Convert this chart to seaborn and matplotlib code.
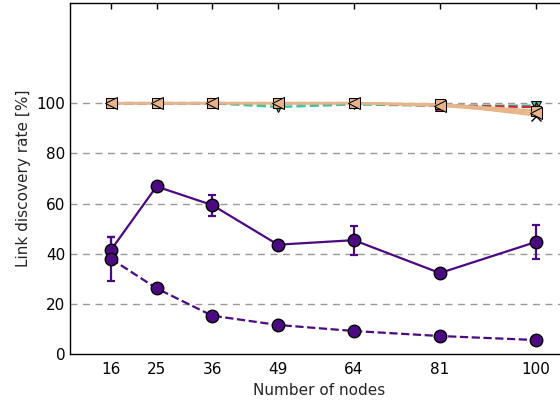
import matplotlib
matplotlib.use("Agg")
import matplotlib.pyplot as plt
import seaborn as sns
import pandas as pd
import numpy as np

nodes = [16, 25, 36, 49, 64, 81, 100]

# high-rate series
sq_tan = [100, 100, 100, 100, 100, 99.5, 97]
left_tan = [100, 100, 100, 100, 100, 99, 96]
down_teal = [100, 100, 100, 98.5, 99.5, 99, 99]
up_red = [100, 100, 100, 100, 100, 99, 98.5]
x_black = [100, 100, 100, 100, 100, 99.5, 95]

# purple series
solid_vals = [41.5, 66.8, 59.4, 43.6, 45.4, 32.3, 44.7]
solid_err = [5.0, 1.5, 4.2, 1.5, 5.8, 1.0, 6.9]
dashed_vals = [38.0, 26.2, 15.3, 11.6, 9.2, 7.2, 5.6]
dashed_err = [8.7, 0, 0, 0, 0, 0, 0]

sns.set_theme(style="white")
plt.rcParams['font.family'] = ['DejaVu Sans']

fig = plt.figure(figsize=(5.6, 4.01), dpi=100)
ax = fig.add_axes([0.125, 0.117, 0.89, 0.876])

purple = "#4b0a82"
tan = "#e8b48a"
teal = "#3cc8a0"
red = "#c8303a"

df = pd.DataFrame({"nodes": nodes, "sq": sq_tan, "lt": left_tan, "dn": down_teal,
                   "up": up_red, "xb": x_black})

sns.lineplot(data=df, x="nodes", y="dn", ax=ax, color=teal, linestyle="--", lw=1.8,
             marker="v", markersize=7, markerfacecolor=teal, markeredgecolor="black", zorder=3)
sns.lineplot(data=df, x="nodes", y="up", ax=ax, color=red, linestyle="--", lw=1.8,
             marker="^", markersize=7, markerfacecolor=red, markeredgecolor="black", zorder=3)
sns.lineplot(data=df, x="nodes", y="xb", ax=ax, color=tan, lw=1.3,
             marker="x", markersize=7, markeredgecolor="black", markeredgewidth=1, zorder=4)
sns.lineplot(data=df, x="nodes", y="sq", ax=ax, color=tan, lw=1.8,
             marker="s", markersize=7, markerfacecolor=tan, markeredgecolor="black", zorder=4)
sns.lineplot(data=df, x="nodes", y="lt", ax=ax, color=tan, lw=1.8,
             marker="<", markersize=8, markerfacecolor=tan, markeredgecolor="black", zorder=5)

ax.errorbar(nodes, solid_vals, yerr=solid_err, color=purple, lw=1.6, marker="o",
            markersize=9, markerfacecolor=purple, markeredgecolor="black",
            capsize=3, elinewidth=1.6, capthick=1.6, zorder=6)
ax.errorbar(nodes, dashed_vals, yerr=dashed_err, color=purple, lw=1.6, ls="--", marker="o",
            markersize=9, markerfacecolor=purple, markeredgecolor="black",
            capsize=3, elinewidth=1.6, capthick=1.6, zorder=6)

ax.set_xlim(7.9, 106.4)
ax.set_ylim(0, 140)
ax.set_xticks(nodes)
ax.set_xticklabels([str(n) for n in nodes])
ax.set_yticks([0, 20, 40, 60, 80, 100])
for yv in [20, 40, 60, 80, 100]:
    ax.axhline(yv, color="#999999", ls=(0, (5, 4)), lw=1, zorder=1)
ax.tick_params(direction="in", top=True, right=True, length=4, labelsize=11,
               colors="black", width=1)
ax.tick_params(axis="x", pad=6)
for s in ax.spines.values():
    s.set_color("black")
    s.set_linewidth(1)
ax.set_xlabel("Number of nodes", fontsize=11)
ax.set_ylabel("Link discovery rate [%]", fontsize=11)
ax.grid(False)

fig.savefig("out.png", dpi=100)
